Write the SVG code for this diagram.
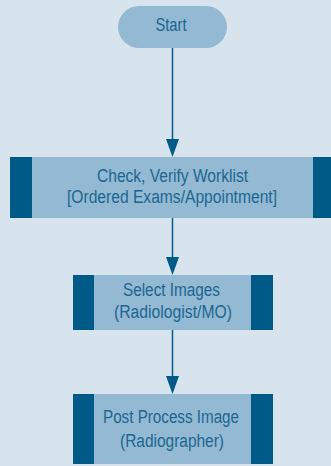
<svg xmlns="http://www.w3.org/2000/svg" width="331" height="466" viewBox="0 0 331 466">
<style>
.bg{fill:#d7e4ee}
.box{fill:#94b9d3}
.bar{fill:#005a87}
.t{font-family:"Liberation Sans",Arial,sans-serif;font-size:18px;fill:#1b6791;text-anchor:middle}
.ln{stroke:#005a87;stroke-width:1.5;fill:none}
.hd{fill:#005a87}
</style>
<rect class="bg" x="0" y="0" width="331" height="466"/>
<g id="connectors">
<line class="ln" x1="172.5" y1="48" x2="172.5" y2="140"/>
<path class="hd" d="M166,139 L179,139 L172.5,157 Z"/>
<line class="ln" x1="172.5" y1="218" x2="172.5" y2="258"/>
<path class="hd" d="M166,257 L179,257 L172.5,275 Z"/>
<line class="ln" x1="172.5" y1="330" x2="172.5" y2="377"/>
<path class="hd" d="M166,376 L179,376 L172.5,394 Z"/>
</g>
<g id="start">
<rect class="box" x="118" y="6" width="109" height="42" rx="21"/>
<text class="t" x="171" y="31" style="font-size:19px" textLength="31" lengthAdjust="spacingAndGlyphs">Start</text>
</g>
<g id="check">
<rect class="box" x="10" y="157" width="321" height="61"/>
<rect class="bar" x="10" y="157" width="22" height="61"/>
<rect class="bar" x="313" y="157" width="18" height="61"/>
<text class="t" x="172.5" y="181.5" textLength="151" lengthAdjust="spacingAndGlyphs">Check, Verify Worklist</text>
<text class="t" x="172" y="203" textLength="210" lengthAdjust="spacingAndGlyphs">[Ordered Exams/Appointment]</text>
</g>
<g id="select">
<rect class="box" x="73" y="275" width="200" height="55"/>
<rect class="bar" x="73" y="275" width="21" height="55"/>
<rect class="bar" x="251" y="275" width="22" height="55"/>
<text class="t" x="171.5" y="296" textLength="97" lengthAdjust="spacingAndGlyphs">Select Images</text>
<text class="t" x="173" y="318" textLength="118" lengthAdjust="spacingAndGlyphs">(Radiologist/MO)</text>
</g>
<g id="post">
<rect class="box" x="73" y="394" width="200" height="70"/>
<rect class="bar" x="73" y="394" width="21" height="70"/>
<rect class="bar" x="251" y="394" width="22" height="70"/>
<text class="t" x="171" y="423" textLength="136" lengthAdjust="spacingAndGlyphs">Post Process Image</text>
<text class="t" x="172" y="447" textLength="104" lengthAdjust="spacingAndGlyphs">(Radiographer)</text>
</g>
</svg>
